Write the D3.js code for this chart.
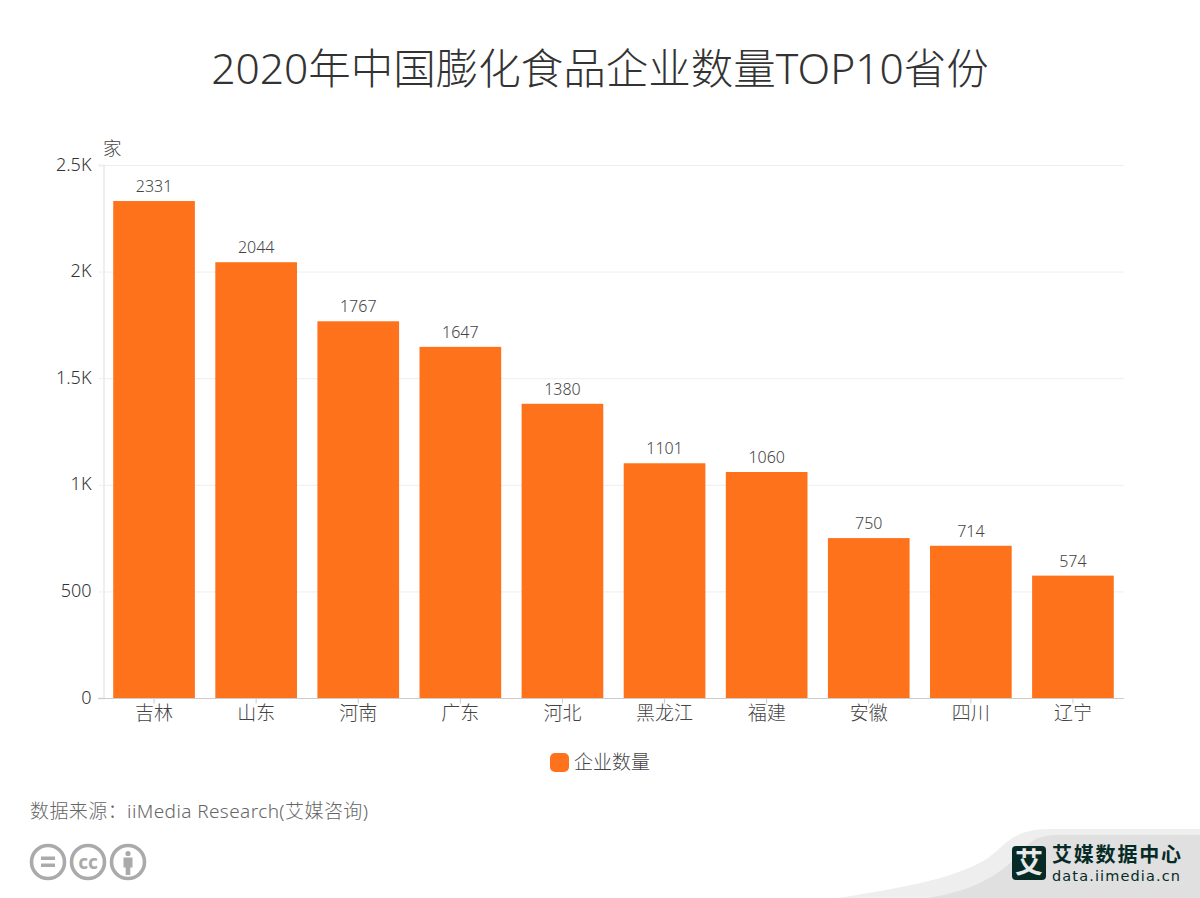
<!DOCTYPE html>
<html><head><meta charset="utf-8">
<script src="https://cdnjs.cloudflare.com/ajax/libs/d3/7.8.5/d3.min.js"></script>
<style>
html,body{margin:0;padding:0;background:#fff}
svg{display:block}
text{font-family:"Noto Sans","Noto Sans CJK SC",sans-serif}
</style></head><body>
<svg id="c" width="1200" height="898"></svg>
<script>
const categories = ["吉林","山东","河南","广东","河北","黑龙江","福建","安徽","四川","辽宁"];
const values = [2331,2044,1767,1647,1380,1101,1060,750,714,574];
const yTicks = [0,500,1000,1500,2000,2500];
const yLabels = ["0","500","1K","1.5K","2K","2.5K"];
const titleText = "2020年中国膨化食品企业数量TOP10省份";
const seriesName = "企业数量";
const unitText = "家";
const sourceText = "数据来源：iiMedia Research(艾媒咨询)";

const svg = d3.select("#c");
const x = d3.scaleBand().domain(categories).range([103,1124]).paddingInner(0.2).paddingOuter(0.1);
const y = d3.scaleLinear().domain([0,2500]).range([698,165]);
const orange = "#ff721c";

svg.append("text").attr("x",600).attr("y",84).attr("text-anchor","middle")
  .attr("font-size",42.5).attr("fill","#333").attr("font-weight",300).text(titleText);

svg.append("g").selectAll("line").data(yTicks.slice(1)).join("line")
  .attr("x1",103).attr("x2",1124).attr("y1",d=>y(d)+.5).attr("y2",d=>y(d)+.5)
  .attr("stroke","#eee");

const yAxis = d3.axisLeft(y).tickValues(yTicks).tickFormat((d,i)=>yLabels[i]).tickSize(5).tickPadding(7);
const gy = svg.append("g").attr("transform","translate(103.5,0)").call(yAxis);
gy.select(".domain").attr("stroke","#eee").attr("stroke-width",2);
gy.selectAll("line").attr("stroke","#eee");
gy.selectAll("text").attr("font-size",18).attr("fill","#333").attr("font-weight",300)
  .attr("y",0).attr("dy",5);

svg.append("text").attr("x",103).attr("y",155).attr("font-size",18.5).attr("fill","#444").attr("font-weight",300).text(unitText);

svg.append("g").selectAll("rect").data(values).join("rect")
  .attr("x",(d,i)=>x(categories[i])).attr("width",x.bandwidth())
  .attr("y",d=>y(d)).attr("height",d=>y(0)-y(d)).attr("fill",orange);

svg.append("g").selectAll("text").data(values).join("text")
  .attr("x",(d,i)=>x(categories[i])+x.bandwidth()/2).attr("y",d=>y(d)-9)
  .attr("text-anchor","middle").attr("font-size",16).attr("fill","#444").attr("font-weight",300)
  .text(d=>d);

const xAxis = d3.axisBottom(x).tickSize(5).tickPadding(3);
const gx = svg.append("g").attr("transform","translate(0,698.5)").call(xAxis);
gx.select(".domain").attr("stroke","#ccc").attr("d","M98,0H1124");
gx.selectAll("line").attr("stroke","#ccc");
gx.selectAll("text").attr("font-size",19).attr("fill","#444").attr("font-weight",300);

svg.append("rect").attr("x",550).attr("y",753).attr("width",19).attr("height",19).attr("rx",5).attr("fill",orange);
svg.append("text").attr("x",574).attr("y",769).attr("font-size",19).attr("fill","#444").attr("font-weight",300).text(seriesName);

svg.append("text").attr("x",30).attr("y",818).attr("font-size",19).attr("fill","#666").attr("font-weight",300).attr("textLength",338).text(sourceText);

const icons = svg.append("g").attr("fill","none").attr("stroke","#aaa").attr("stroke-width",3.6);
[48,88,128].forEach(cx=>icons.append("circle").attr("cx",cx).attr("cy",862).attr("r",16.5));
svg.append("rect").attr("x",41).attr("y",856.5).attr("width",14).attr("height",3.5).attr("fill","#aaa");
svg.append("rect").attr("x",41).attr("y",863.5).attr("width",14).attr("height",3.5).attr("fill","#aaa");
svg.append("text").attr("x",88).attr("y",868.5).attr("text-anchor","middle").attr("font-size",19).attr("font-weight",700).attr("fill","#aaa").text("cc");
svg.append("circle").attr("cx",128).attr("cy",853.5).attr("r",2.6).attr("fill","#aaa");
svg.append("path").attr("d","M123.5,857.5h9v10h-2.2v7.5h-4.6v-7.5h-2.2z").attr("fill","#aaa");

svg.append("path").attr("fill","#eeeeee")
  .attr("d","M838,898C900,888 950,880 985,860C1005,847 1010,829 1050,829H1200V898Z");
svg.append("path").attr("fill","#e0e0e0")
  .attr("d","M928,898C975,890 1000,875 1020,853C1030,842 1035,835 1060,835H1200V898Z");
svg.append("rect").attr("x",1012).attr("y",846).attr("width",34).attr("height",34).attr("rx",4).attr("fill","#062b26");
svg.append("text").attr("x",1029).attr("y",873).attr("text-anchor","middle").attr("font-size",28).attr("font-weight",700).attr("fill","#e8e8e8").text("艾");
svg.append("text").attr("x",1052).attr("y",862).attr("font-size",20).attr("font-weight",700).attr("fill","#062b26").attr("textLength",129).text("艾媒数据中心");
svg.append("text").attr("x",1052).attr("y",881).attr("font-size",14.5).attr("fill","#062b26").attr("style","font-family:'DejaVu Sans'").attr("textLength",128).text("data.iimedia.cn");
</script>
</body></html>
